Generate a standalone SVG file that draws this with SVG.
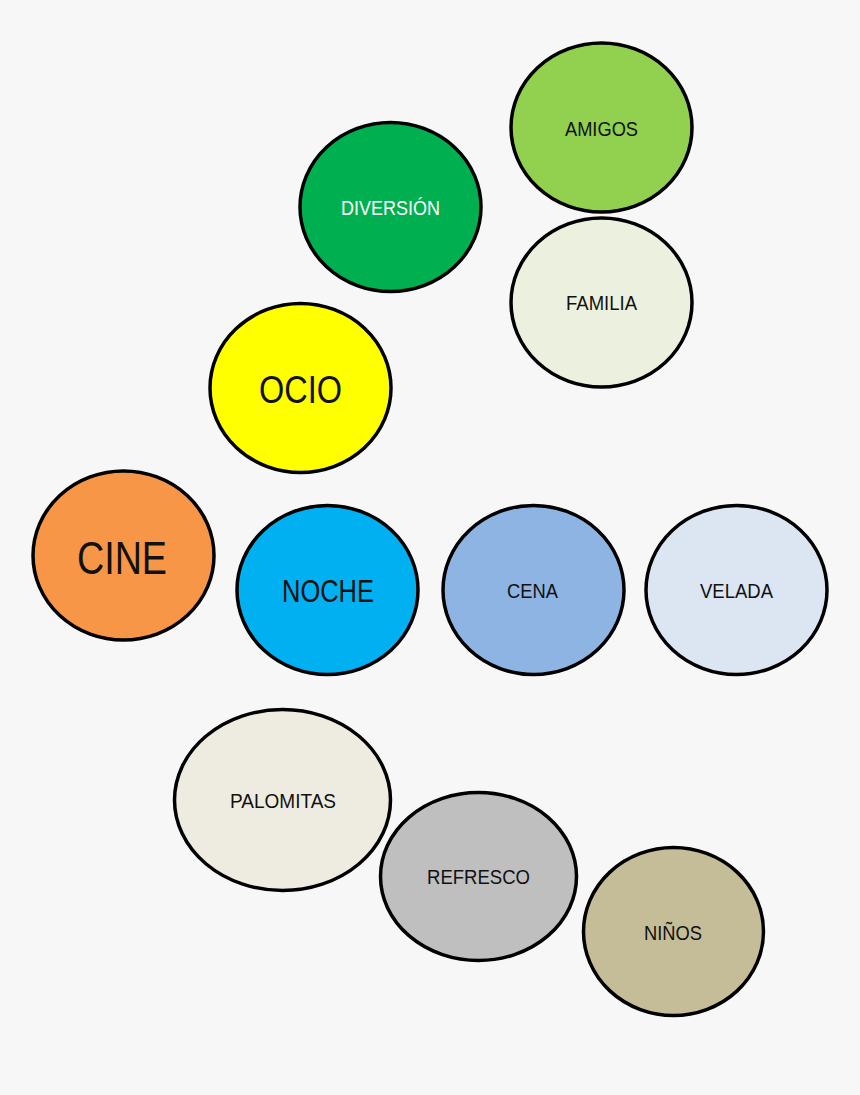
<svg xmlns="http://www.w3.org/2000/svg" width="860" height="1095" viewBox="0 0 860 1095">
<style>
.n{stroke:#000;stroke-width:3.5}
.t{font-family:"Liberation Sans Narrow","Liberation Sans",Arial,sans-serif;fill:#111;text-anchor:middle}
.s{font-size:21px}
</style>
<rect width="860" height="1095" fill="#f7f7f7"/>
<g id="amigos"><ellipse class="n" cx="601.5" cy="127.5" rx="90.5" ry="84.5" fill="#92D050"/><text class="t s" x="601.5" y="136" textLength="73" lengthAdjust="spacingAndGlyphs">AMIGOS</text></g>
<g id="diversion"><ellipse class="n" cx="390.5" cy="207" rx="90.5" ry="84.5" fill="#00B050"/><text class="t s" x="390.5" y="215" textLength="99" lengthAdjust="spacingAndGlyphs" style="fill:#fff">DIVERSIÓN</text></g>
<g id="familia"><ellipse class="n" cx="601.5" cy="302.5" rx="90.5" ry="84.5" fill="#EBF1DE"/><text class="t s" x="601.5" y="310" textLength="71" lengthAdjust="spacingAndGlyphs">FAMILIA</text></g>
<g id="ocio"><ellipse class="n" cx="300.5" cy="388" rx="90.5" ry="84.5" fill="#FFFF00"/><text class="t" x="300.5" y="403" font-size="38" textLength="83" lengthAdjust="spacingAndGlyphs">OCIO</text></g>
<g id="cine"><ellipse class="n" cx="123.5" cy="555.5" rx="90.5" ry="84.5" fill="#F79646"/><text class="t" x="122" y="574" font-size="47" textLength="90" lengthAdjust="spacingAndGlyphs">CINE</text></g>
<g id="noche"><ellipse class="n" cx="327.5" cy="590" rx="90.5" ry="84.5" fill="#00B0F0"/><text class="t" x="328" y="602" font-size="31" textLength="92" lengthAdjust="spacingAndGlyphs">NOCHE</text></g>
<g id="cena"><ellipse class="n" cx="533.5" cy="590" rx="90.5" ry="84.5" fill="#8DB4E2"/><text class="t s" x="532.5" y="598" textLength="51" lengthAdjust="spacingAndGlyphs">CENA</text></g>
<g id="velada"><ellipse class="n" cx="736.5" cy="590" rx="90.5" ry="84.5" fill="#DCE6F2"/><text class="t s" x="736.5" y="598" textLength="73" lengthAdjust="spacingAndGlyphs">VELADA</text></g>
<g id="palomitas"><ellipse class="n" cx="282.5" cy="800" rx="108" ry="90.5" fill="#EEECE1"/><text class="t s" x="283" y="808" textLength="106" lengthAdjust="spacingAndGlyphs">PALOMITAS</text></g>
<g id="refresco"><ellipse class="n" cx="478.5" cy="876.5" rx="98" ry="84" fill="#BFBFBF"/><text class="t s" x="478.5" y="884" textLength="103" lengthAdjust="spacingAndGlyphs">REFRESCO</text></g>
<g id="ninos"><ellipse class="n" cx="673.5" cy="931.5" rx="90" ry="84" fill="#C4BD97"/><text class="t s" x="673" y="940" textLength="58" lengthAdjust="spacingAndGlyphs">NIÑOS</text></g>
<g id="connectors"/>
</svg>
